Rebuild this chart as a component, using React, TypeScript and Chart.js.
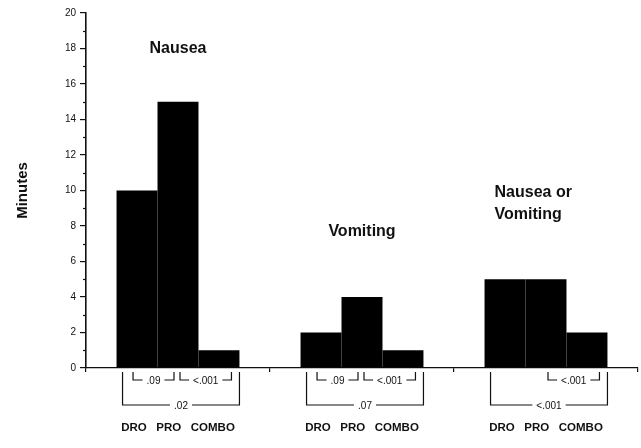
import React, { useEffect, useRef } from "react";
import { Chart, registerables } from "chart.js";

Chart.register(...registerables);

// ---- data ----
const groups = ["Nausea", "Vomiting", "Nausea or Vomiting"];
const groupTitleLines = [["Nausea"], ["Vomiting"], ["Nausea or", "Vomiting"]];
const groupTitleLevel = [18, 7.7, 9.25]; // minutes-value where each group title sits
const groupTitleAlign = ["center", "center", "left"];
const drugs = ["DRO", "PRO", "COMBO"];
const droValues = [10, 2, 5];
const proValues = [15, 4, 5];
const comboValues = [1, 1, 2];
const yTickValues = [0, 2, 4, 6, 8, 10, 12, 14, 16, 18, 20];
// p values: [DRO vs PRO, PRO vs COMBO, DRO vs COMBO]
const pDroPro = [".09", ".09", null];
const pProCombo = ["<.001", "<.001", "<.001"];
const pDroCombo = [".02", ".07", "<.001"];

const INK = "#111";
const FONT = '"Liberation Sans", Arial, sans-serif';

const bracketPlugin = {
  id: "brackets",
  afterDraw(chart: any) {
    const ctx = chart.ctx;
    const area = chart.chartArea;
    const yScale = chart.scales.y;
    const xScale = chart.scales.x;
    ctx.save();
    ctx.strokeStyle = INK;
    ctx.fillStyle = INK;
    ctx.lineWidth = 1.2;

    // minor y ticks
    for (let v = 1; v < 20; v += 2) {
      const py = Math.round(yScale.getPixelForValue(v)) + 0.5;
      ctx.beginPath();
      ctx.moveTo(area.left - 3, py);
      ctx.lineTo(area.left, py);
      ctx.stroke();
    }

    const drawBracket = (x1: number, x2: number, yTop: number, yLine: number, label: string, fontPx: number) => {
      ctx.font = `${fontPx}px ${FONT}`;
      const tw = ctx.measureText(label).width;
      const mid = (x1 + x2) / 2;
      const gap = tw / 2 + 4;
      ctx.beginPath();
      ctx.moveTo(x1, yTop);
      ctx.lineTo(x1, yLine);
      ctx.lineTo(mid - gap, yLine);
      ctx.moveTo(mid + gap, yLine);
      ctx.lineTo(x2, yLine);
      ctx.lineTo(x2, yTop);
      ctx.stroke();
      ctx.textAlign = "center";
      ctx.textBaseline = "middle";
      ctx.fillText(label, mid, yLine + 1);
    };

    const m0 = chart.getDatasetMeta(0).data;
    const m1 = chart.getDatasetMeta(1).data;
    const m2 = chart.getDatasetMeta(2).data;
    const top = area.bottom + 4;
    const innerY = area.bottom + 12;
    const outerY = area.bottom + 37;
    for (let g = 0; g < groups.length; g++) {
      const b0 = m0[g], b1 = m1[g], b2 = m2[g];
      if (pDroPro[g]) drawBracket(b0.x - 4, b1.x - 4, top, innerY, pDroPro[g] as string, 10);
      if (pProCombo[g]) drawBracket(b1.x + 2, b2.x + b2.width / 2 - 8, top, innerY, pProCombo[g] as string, 10);
      if (pDroCombo[g]) drawBracket(b0.x - b0.width / 2 + 6, b2.x + b2.width / 2, top, outerY, pDroCombo[g] as string, 10);
    }

    // drug labels under each group
    ctx.font = `bold 11.5px ${FONT}`;
    ctx.textAlign = "center";
    ctx.textBaseline = "middle";
    for (let g = 0; g < groups.length; g++) {
      ctx.fillText(drugs.join("   "), xScale.getPixelForValue(g), area.bottom + 60);
    }

    // group titles
    ctx.font = `bold 16px ${FONT}`;
    ctx.textBaseline = "middle";
    for (let g = 0; g < groups.length; g++) {
      const lines = groupTitleLines[g];
      const cy = yScale.getPixelForValue(groupTitleLevel[g]);
      const lh = 22;
      const startY = cy - ((lines.length - 1) * lh) / 2;
      let x: number;
      if (groupTitleAlign[g] === "left") {
        const b0 = m0[g];
        x = b0.x - b0.width / 2 + 10;
        ctx.textAlign = "left";
      } else {
        x = xScale.getPixelForValue(g);
        ctx.textAlign = "center";
      }
      lines.forEach((ln, i) => ctx.fillText(ln, x, startY + i * lh));
    }
    ctx.restore();
  },
};

export default function App() {
  const ref = useRef<HTMLCanvasElement | null>(null);
  useEffect(() => {
    document.body.style.margin = "0";
    const canvas = ref.current;
    if (!canvas) return;
    const chart = new Chart(canvas, {
      type: "bar",
      data: {
        labels: groups,
        datasets: [
          { label: drugs[0], data: droValues, backgroundColor: "#000", borderWidth: 0 },
          { label: drugs[1], data: proValues, backgroundColor: "#000", borderWidth: 0 },
          { label: drugs[2], data: comboValues, backgroundColor: "#000", borderWidth: 0 },
        ],
      },
      options: {
        animation: false,
        responsive: false,
        maintainAspectRatio: false,
        layout: { padding: { top: 13, right: 3, left: 0, bottom: 0 } },
        datasets: { bar: { barPercentage: 1.0, categoryPercentage: 0.668 } },
        plugins: { legend: { display: false }, tooltip: { enabled: false }, title: { display: false } },
        scales: {
          x: {
            type: "category",
            offset: true,
            grid: { display: true, drawOnChartArea: false, drawTicks: true, tickLength: 4, offset: true, color: INK, lineWidth: 1.2 },
            border: { display: true, color: INK, width: 1.2 },
            ticks: { display: false },
            afterFit: (s: any) => { s.height = 80; },
          },
          y: {
            min: 0,
            max: 20,
            afterBuildTicks: (s: any) => { s.ticks = yTickValues.map((v) => ({ value: v })); },
            ticks: {
              color: INK,
              padding: 4,
              font: { family: FONT, size: 10 },
            },
            grid: { display: true, drawOnChartArea: false, tickLength: 6, color: INK, lineWidth: 1.2 },
            border: { display: true, color: INK, width: 1.6 },
            title: {
              display: true,
              text: "Minutes",
              color: INK,
              padding: { top: 14, bottom: 0 },
              font: { family: FONT, size: 15, weight: "bold" },
            },
            afterFit: (s: any) => { s.width = 86; },
          },
        },
      },
      plugins: [bracketPlugin],
    });
    return () => chart.destroy();
  }, []);
  return (
    <div style={{ width: 641, height: 448, background: "#fff" }}>
      <canvas ref={ref} width={641} height={448} style={{ display: "block" }} />
    </div>
  );
}
